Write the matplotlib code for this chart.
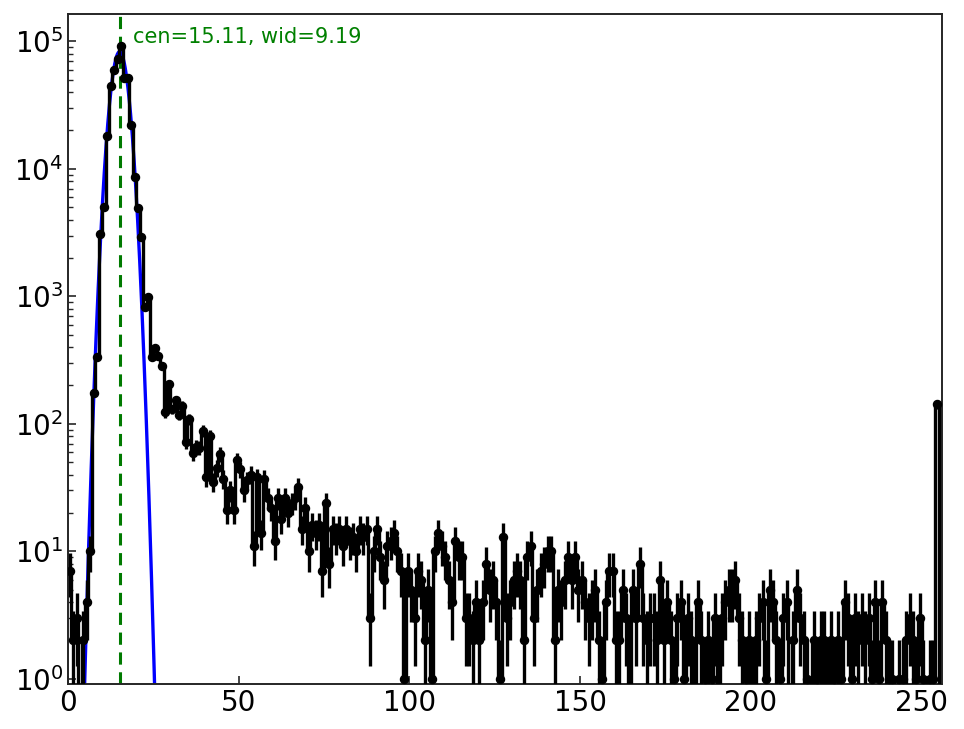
import numpy as np
import matplotlib
matplotlib.use("Agg")
import matplotlib.pyplot as plt

# histogram bin centres (0.5 ... 255.5) and counts
bin_centers = np.arange(256) + 0.5
counts = [
    7, 2, 3, 0, 2, 4, 10, 175, 333, 3090,
    5030, 18000, 45000, 59700, 72700, 92700, 52000, 52000, 22100, 8600,
    4960, 2900, 820, 980, 337, 395, 343, 285, 123, 206,
    130, 154, 118, 138, 72, 109, 59, 66, 65, 88,
    38, 80, 35, 45, 58, 37, 21, 30, 21, 52,
    44, 30, 36, 40, 11, 38, 14, 37, 26, 22,
    12, 26, 18, 26, 20, 24, 26, 32, 15, 22,
    10, 16, 14, 16, 7, 24, 8, 15, 13, 15,
    11, 15, 12, 13, 10, 15, 13, 15, 3, 10,
    15, 9, 6, 11, 12, 14, 10, 7, 1, 7,
    5, 3, 7, 6, 2, 5, 1, 10, 14, 11,
    9, 6, 4, 12, 9, 9, 3, 3, 2, 4,
    2, 4, 8, 5, 6, 4, 1, 13, 3, 4,
    6, 7, 6, 2, 9, 11, 3, 5, 7, 8,
    10, 10, 2, 5, 4, 6, 9, 6, 9, 5,
    6, 4, 3, 4, 5, 2, 1, 4, 7, 7,
    2, 2, 5, 3, 0, 5, 3, 8, 3, 2,
    3, 3, 2, 6, 2, 4, 2, 1, 3, 4,
    1, 3, 2, 0, 4, 2, 1, 2, 1, 3,
    0, 3, 4, 5, 5, 6, 3, 2, 1, 2,
    0, 2, 3, 4, 1, 5, 4, 2, 1, 3,
    4, 0, 2, 5, 3, 2, 1, 0, 2, 1,
    2, 2, 0, 2, 1, 2, 1, 4, 3, 1,
    3, 2, 3, 2, 3, 1, 4, 1, 4, 2,
    1, 1, 0, 1, 1, 2, 3, 2, 1, 3,
    1, 0, 1, 1, 143, 0,
]

# Gaussian fit parameters
fit_amp = 83000.0
fit_cen = 15.11
fit_wid = 9.19

counts = np.array(counts, dtype=float)
errors = np.sqrt(counts)

fig = plt.figure(figsize=(9.64, 7.29), dpi=100)
ax = fig.add_axes([68 / 964, 1 - 684 / 729, 874 / 964, 670 / 729])
ax.set_yscale("log", nonpositive="clip")

ax.axvline(fit_cen, color="#007a00", ls="--", lw=2.2, dashes=(4, 2.5), zorder=1)

xfit = np.linspace(0, 256, 2000)
yfit = fit_amp * np.exp(-(xfit - fit_cen) ** 2 / fit_wid)
ax.plot(xfit, yfit, color="#0000ff", lw=2.4, zorder=2)

ax.errorbar(bin_centers, counts, yerr=errors, fmt="o-", color="black",
            ms=5.8, lw=2.4, elinewidth=2.4, capsize=0, zorder=3,
            drawstyle="steps-mid")

ax.text(0.0744, 0.966, "cen=%.2f, wid=%.2f" % (fit_cen, fit_wid),
        transform=ax.transAxes, color="#008000", fontsize=15,
        ha="left", va="center")

ax.set_xlim(0, 256)
ax.set_ylim(0.91, 1.64e5)
ax.set_xticks([0, 50, 100, 150, 200, 250])

for sp in ax.spines.values():
    sp.set_color("#262626")
    sp.set_linewidth(1.4)

ax.tick_params(axis="both", which="major", direction="in", length=6,
               width=1.2, labelsize=20, colors="#262626", labelcolor="black",
               top=False, right=False)
ax.tick_params(axis="both", which="minor", direction="in", length=3.5,
               width=1.0, colors="#262626", top=False, right=False)
ax.tick_params(axis="x", which="minor", bottom=False)

fig.savefig("out.png", dpi=100)
